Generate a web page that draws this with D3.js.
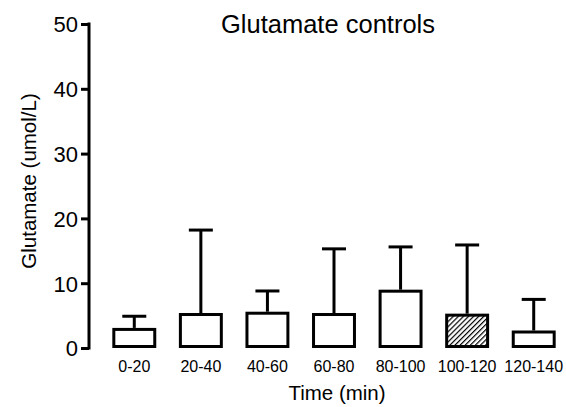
<!DOCTYPE html>
<html><head><meta charset="utf-8">
<script src="https://cdn.jsdelivr.net/npm/d3@7"></script>
<style>body{margin:0;background:#fff}svg{display:block}text{font-family:"Liberation Sans",Arial,sans-serif;fill:#000}</style>
</head><body><svg id="c" width="566" height="407"></svg>
<script>
const categories = ["0-20","20-40","40-60","60-80","80-100","100-120","120-140"];
const means = [3.1, 5.4, 5.6, 5.4, 9.0, 5.3, 2.7];
const errTops = [4.9, 18.2, 8.8, 15.3, 15.6, 15.9, 7.5];
const hatched = [false,false,false,false,false,true,false];
const yTicks = [0,10,20,30,40,50];

const svg = d3.select("#c");
const defs = svg.append("defs");
const pat = defs.append("pattern").attr("id","hatch").attr("patternUnits","userSpaceOnUse")
  .attr("width",3.6).attr("height",3.6).attr("patternTransform","rotate(45)");
pat.append("rect").attr("width",3.6).attr("height",3.6).attr("fill","#fff");
pat.append("line").attr("x1",0.6).attr("y1",0).attr("x2",0.6).attr("y2",3.6).attr("stroke","#000").attr("stroke-width",1.2);

const y = d3.scaleLinear().domain([0,50]).range([348,24]);
const x = d3.scaleBand().domain(categories).range([101,567]).paddingInner(0.34).paddingOuter(0.17);

// y axis
const yAxis = d3.axisLeft(y).tickValues(yTicks).tickSize(8).tickPadding(3);
const gy = svg.append("g").attr("transform","translate(89,0)").call(yAxis);
gy.select(".domain").attr("stroke","#000").attr("stroke-width",3).attr("d","M0,22.5V349.5");
gy.selectAll(".tick line").attr("stroke","#000").attr("stroke-width",3);
gy.selectAll(".tick text").style("font-size","22px").style("font-family","'Liberation Sans',Arial,sans-serif").attr("dy","0.36em");

// bars
const bw = x.bandwidth();
const g = svg.append("g");
categories.forEach((c,i)=>{
  const cx = x(c)+bw/2;
  g.append("line").attr("x1",cx).attr("x2",cx).attr("y1",y(means[i])).attr("y2",y(errTops[i]))
    .attr("stroke","#000").attr("stroke-width",3);
  g.append("line").attr("x1",cx-12).attr("x2",cx+12).attr("y1",y(errTops[i])).attr("y2",y(errTops[i]))
    .attr("stroke","#000").attr("stroke-width",3);
  g.append("rect").attr("x",x(c)+1.5).attr("width",bw-3)
    .attr("y",y(means[i])+1.5).attr("height",y(0)-y(means[i])-3)
    .attr("fill",hatched[i]?"url(#hatch)":"#fff").attr("stroke","#000").attr("stroke-width",3);
});

// x labels
categories.forEach(c=>{
  svg.append("text").attr("x",x(c)+bw/2).attr("y",372).attr("text-anchor","middle")
    .style("font-size","16px").text(c);
});

svg.append("text").attr("x",337).attr("y",400).attr("text-anchor","middle").style("font-size","20.5px").text("Time (min)");
svg.append("text").attr("transform","translate(36,181) rotate(-90)").attr("text-anchor","middle").style("font-size","20.5px").text("Glutamate (umol/L)");
svg.append("text").attr("x",328).attr("y",33).attr("text-anchor","middle").style("font-size","25.5px").text("Glutamate controls");
</script></body></html>
